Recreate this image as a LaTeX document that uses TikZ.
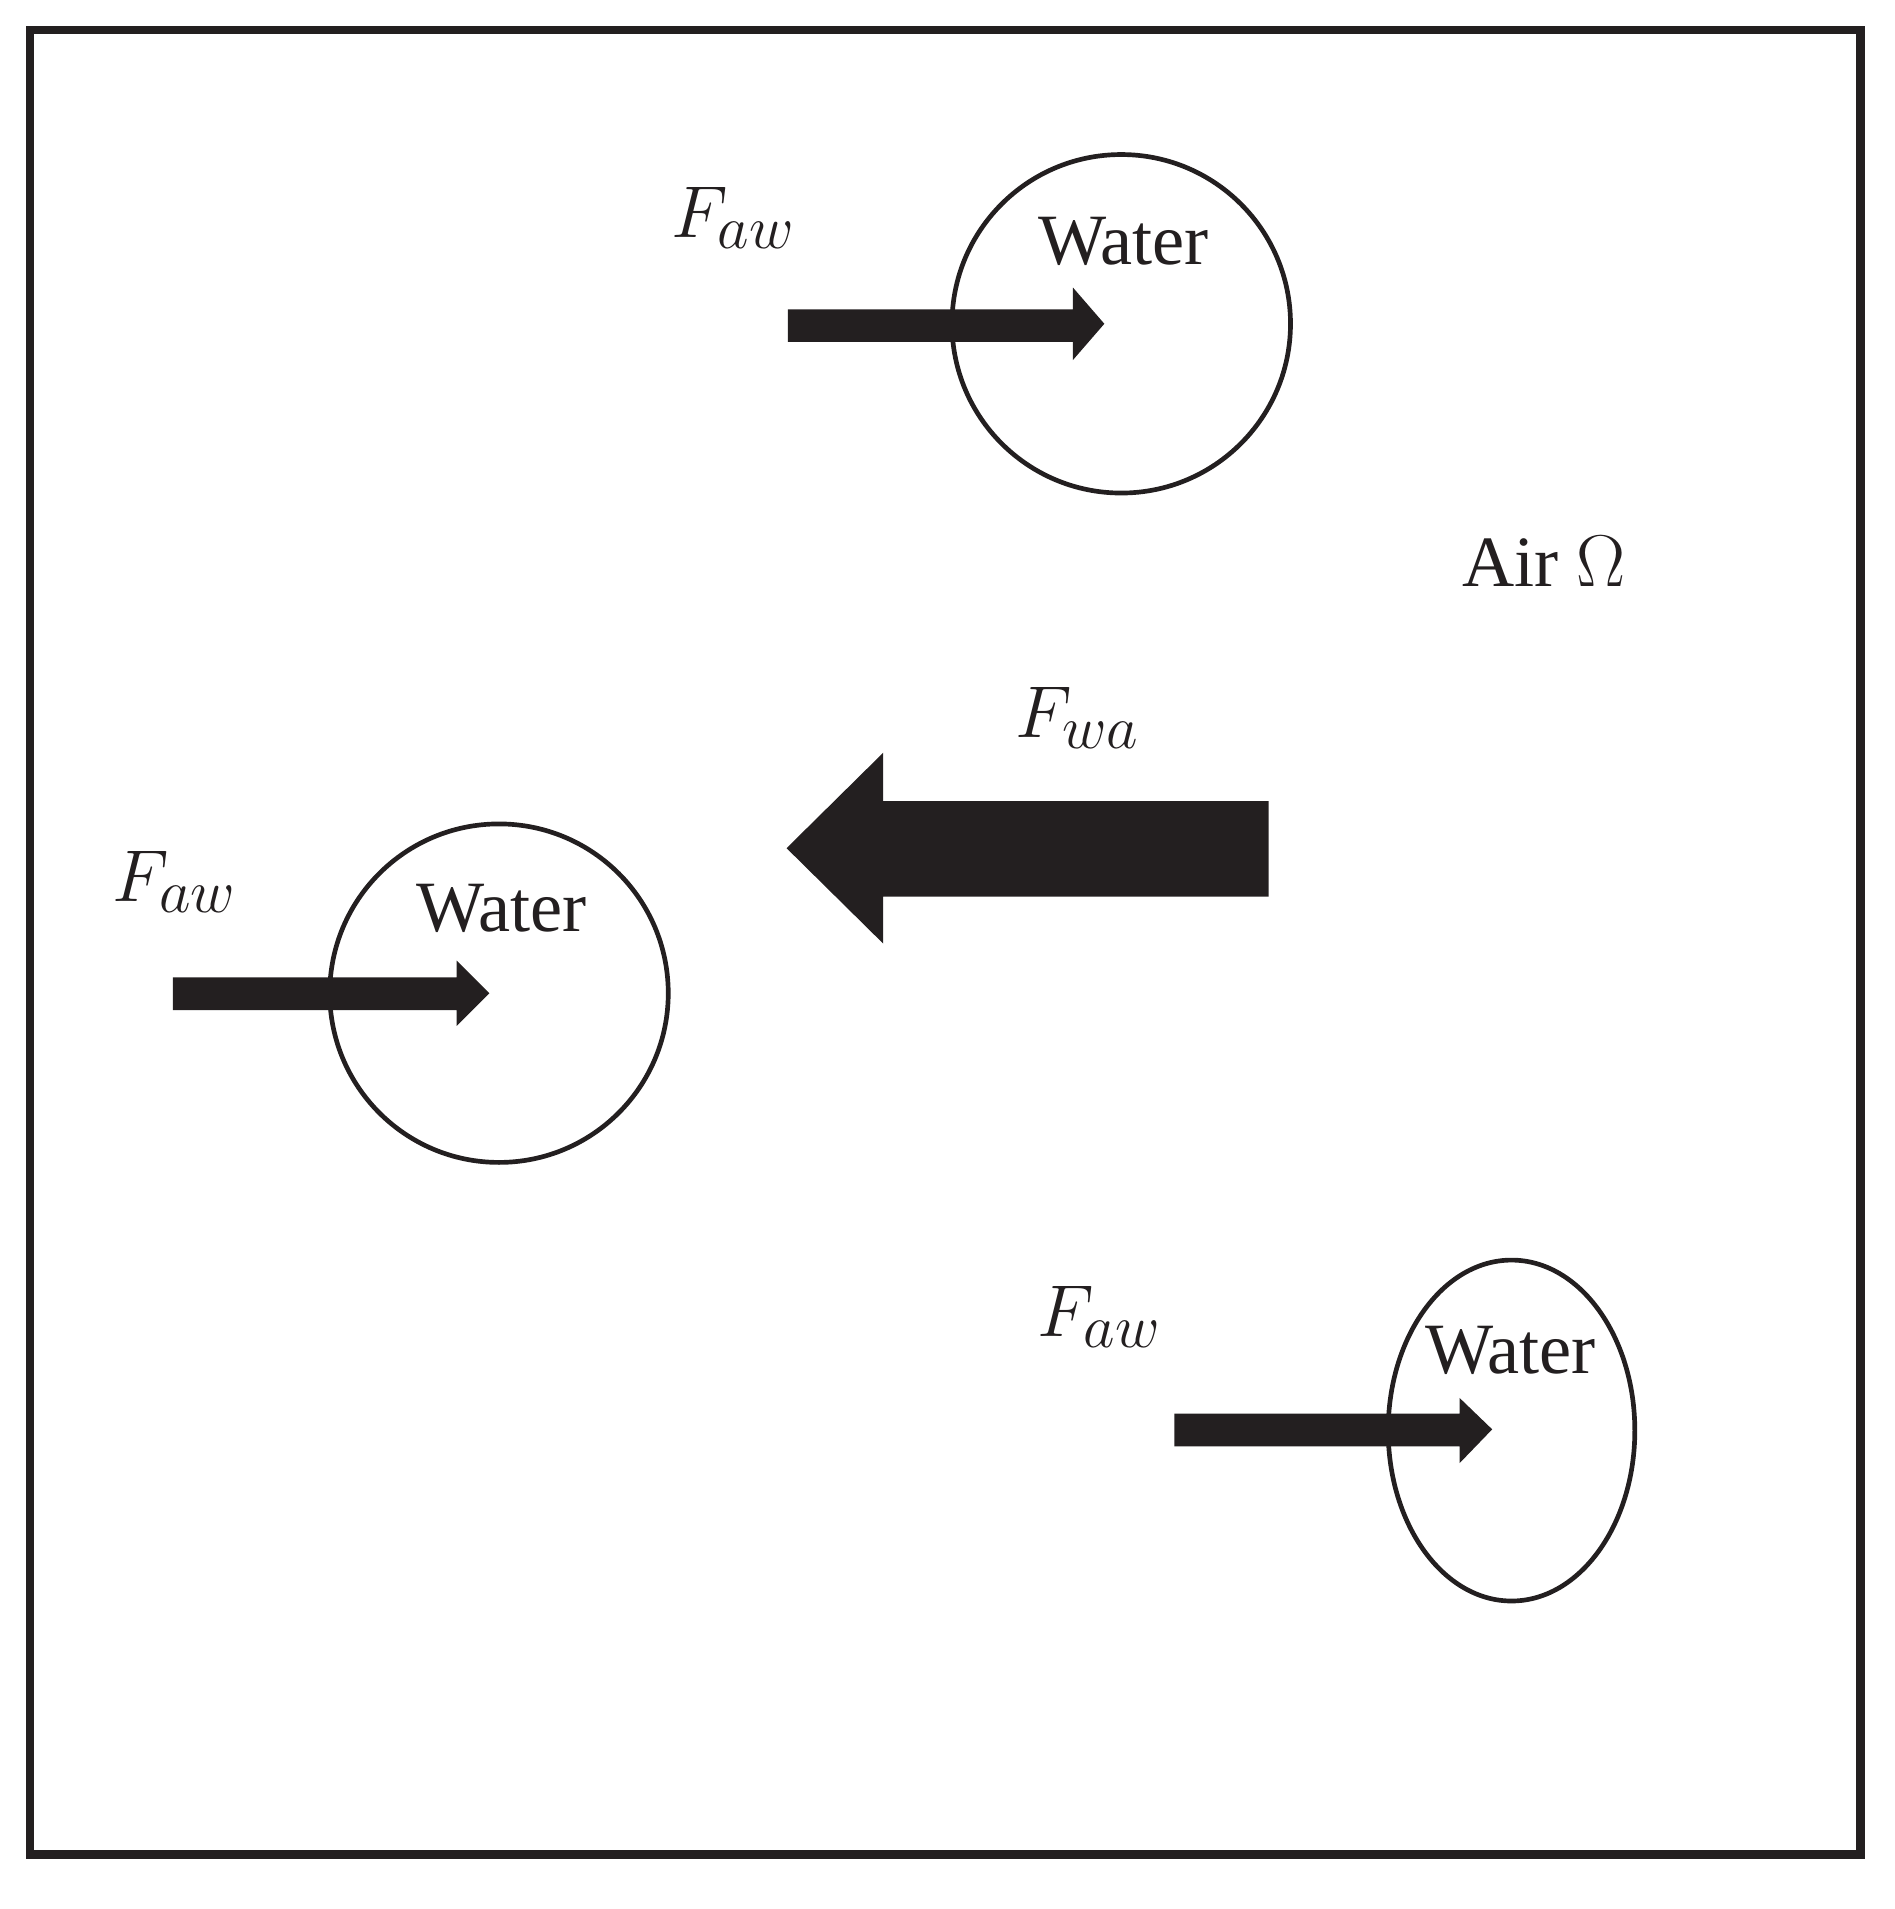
\documentclass[tikz,border=0pt]{standalone}
\usepackage{fontspec}
\setmainfont{Liberation Serif}
\usetikzlibrary{shapes.geometric}
\begin{document}
\definecolor{ink}{HTML}{231F20}
\begin{tikzpicture}[x=0.01cm,y=-0.01cm,
  water/.style={draw=ink,line width=1.1pt,inner sep=0},
  lbl/.style={font=\fontsize{17}{20}\selectfont,text=ink,inner sep=0},
  flbl/.style={font=\fontsize{19}{22}\selectfont,text=ink,inner sep=0}]
\useasboundingbox (0,0) rectangle (1568,1580);
\draw[ink,line width=2pt] (25,25) rectangle (1540,1535);
% drop 1
\node[water,circle,minimum size=2.8cm] (c1) at (928,268) {};
\node[lbl] (w1) at (930,200) {Water};
\fill[ink] (652,256) -- (888,256) -- (888,238) -- (914,268) -- (888,298) -- (888,283) -- (652,283) -- cycle;
\node[flbl] (f1) at (607,180) {$F_{aw}$};
% drop 2
\node[water,circle,minimum size=2.8cm] (c2) at (413,822) {};
\node[lbl] (w2) at (415,752) {Water};
\fill[ink] (143,809) -- (378,809) -- (378,795) -- (405,822) -- (378,849) -- (378,836) -- (143,836) -- cycle;
\node[flbl] (f2) at (145,730) {$F_{aw}$};
% drop 3
\node[water,ellipse,minimum width=2.04cm,minimum height=2.82cm] (c3) at (1251,1184) {};
\node[lbl] (w3) at (1250,1118) {Water};
\fill[ink] (972,1170) -- (1208,1170) -- (1208,1157) -- (1235,1183) -- (1208,1211) -- (1208,1197) -- (972,1197) -- cycle;
\node[flbl] (f3) at (910,1090) {$F_{aw}$};
% big arrow
\fill[ink] (1050,663) -- (731,663) -- (731,623) -- (651,702) -- (731,781) -- (731,742) -- (1050,742) -- cycle;
\node[flbl] (f4) at (892,594) {$F_{wa}$};
\node[lbl] (air) at (1278,465) {Air $\Omega$};
\end{tikzpicture}
\end{document}
